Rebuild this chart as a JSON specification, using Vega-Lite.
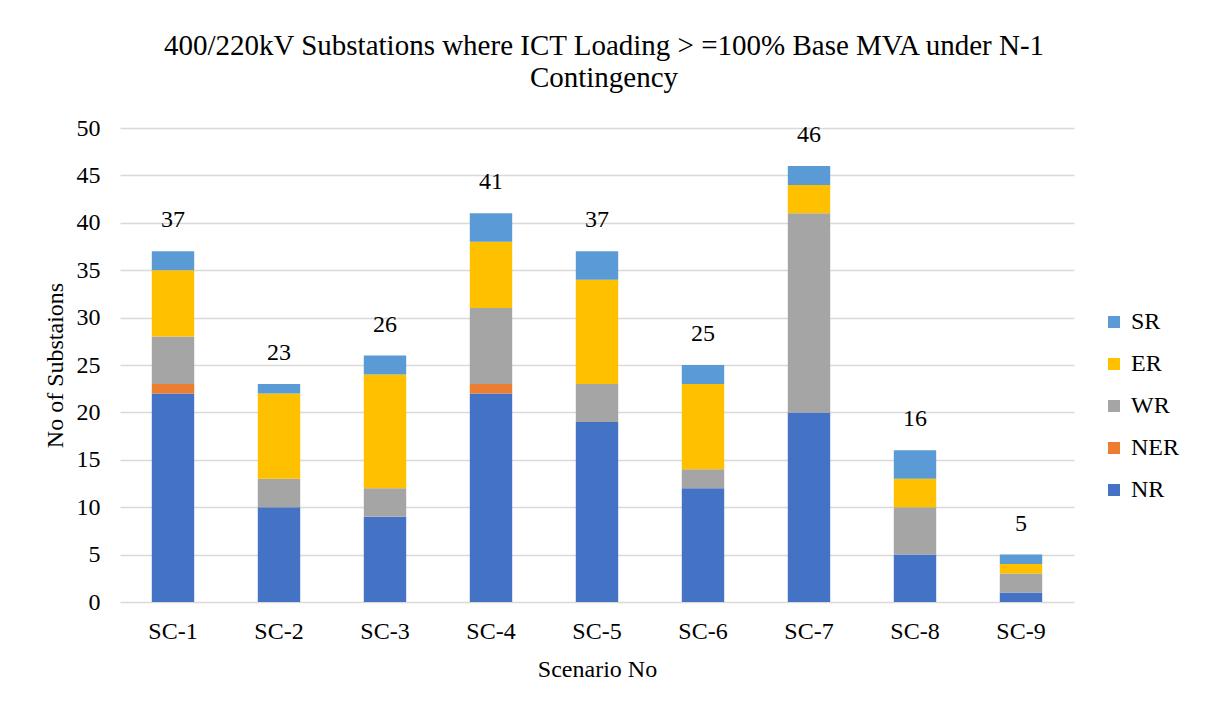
{
  "$schema": "https://vega.github.io/schema/vega-lite/v6.json",
  "autosize": {"type": "none"},
  "width": 954,
  "height": 474,
  "padding": {"left": 120, "top": 128, "right": 131, "bottom": 104},
  "background": "white",
  "config": {
    "font": "Liberation Serif",
    "view": {"stroke": null},
    "axis": {"labelFont": "Liberation Serif", "titleFont": "Liberation Serif", "labelColor": "#000000", "titleColor": "#000000", "titleFontWeight": "normal", "labelFontSize": 24, "titleFontSize": 24},
    "legend": {"labelFont": "Liberation Serif", "labelFontSize": 24, "labelColor": "#000000"}
  },
  "title": {
    "text": ["400/220kV Substations where ICT Loading > =100% Base MVA under N-1", "Contingency"],
    "font": "Liberation Serif",
    "fontSize": 29,
    "fontWeight": "normal",
    "color": "#000000",
    "anchor": "middle",
    "lineHeight": 32,
    "offset": 23,
    "dx": 7
  },
  "data": {
    "values": [
      {"scenario": "SC-1", "region": "NR", "ord": 1, "value": 22},
      {"scenario": "SC-1", "region": "NER", "ord": 2, "value": 1},
      {"scenario": "SC-1", "region": "WR", "ord": 3, "value": 5},
      {"scenario": "SC-1", "region": "ER", "ord": 4, "value": 7},
      {"scenario": "SC-1", "region": "SR", "ord": 5, "value": 2},
      {"scenario": "SC-2", "region": "NR", "ord": 1, "value": 10},
      {"scenario": "SC-2", "region": "NER", "ord": 2, "value": 0},
      {"scenario": "SC-2", "region": "WR", "ord": 3, "value": 3},
      {"scenario": "SC-2", "region": "ER", "ord": 4, "value": 9},
      {"scenario": "SC-2", "region": "SR", "ord": 5, "value": 1},
      {"scenario": "SC-3", "region": "NR", "ord": 1, "value": 9},
      {"scenario": "SC-3", "region": "NER", "ord": 2, "value": 0},
      {"scenario": "SC-3", "region": "WR", "ord": 3, "value": 3},
      {"scenario": "SC-3", "region": "ER", "ord": 4, "value": 12},
      {"scenario": "SC-3", "region": "SR", "ord": 5, "value": 2},
      {"scenario": "SC-4", "region": "NR", "ord": 1, "value": 22},
      {"scenario": "SC-4", "region": "NER", "ord": 2, "value": 1},
      {"scenario": "SC-4", "region": "WR", "ord": 3, "value": 8},
      {"scenario": "SC-4", "region": "ER", "ord": 4, "value": 7},
      {"scenario": "SC-4", "region": "SR", "ord": 5, "value": 3},
      {"scenario": "SC-5", "region": "NR", "ord": 1, "value": 19},
      {"scenario": "SC-5", "region": "NER", "ord": 2, "value": 0},
      {"scenario": "SC-5", "region": "WR", "ord": 3, "value": 4},
      {"scenario": "SC-5", "region": "ER", "ord": 4, "value": 11},
      {"scenario": "SC-5", "region": "SR", "ord": 5, "value": 3},
      {"scenario": "SC-6", "region": "NR", "ord": 1, "value": 12},
      {"scenario": "SC-6", "region": "NER", "ord": 2, "value": 0},
      {"scenario": "SC-6", "region": "WR", "ord": 3, "value": 2},
      {"scenario": "SC-6", "region": "ER", "ord": 4, "value": 9},
      {"scenario": "SC-6", "region": "SR", "ord": 5, "value": 2},
      {"scenario": "SC-7", "region": "NR", "ord": 1, "value": 20},
      {"scenario": "SC-7", "region": "NER", "ord": 2, "value": 0},
      {"scenario": "SC-7", "region": "WR", "ord": 3, "value": 21},
      {"scenario": "SC-7", "region": "ER", "ord": 4, "value": 3},
      {"scenario": "SC-7", "region": "SR", "ord": 5, "value": 2},
      {"scenario": "SC-8", "region": "NR", "ord": 1, "value": 5},
      {"scenario": "SC-8", "region": "NER", "ord": 2, "value": 0},
      {"scenario": "SC-8", "region": "WR", "ord": 3, "value": 5},
      {"scenario": "SC-8", "region": "ER", "ord": 4, "value": 3},
      {"scenario": "SC-8", "region": "SR", "ord": 5, "value": 3},
      {"scenario": "SC-9", "region": "NR", "ord": 1, "value": 1},
      {"scenario": "SC-9", "region": "NER", "ord": 2, "value": 0},
      {"scenario": "SC-9", "region": "WR", "ord": 3, "value": 2},
      {"scenario": "SC-9", "region": "ER", "ord": 4, "value": 1},
      {"scenario": "SC-9", "region": "SR", "ord": 5, "value": 1}
    ]
  },
  "encoding": {
    "x": {
      "field": "scenario",
      "type": "nominal",
      "scale": {"paddingInner": 0.6, "paddingOuter": 0.3},
      "axis": {"labelAngle": 0, "ticks": false, "domain": false, "labelPadding": 17, "title": "Scenario No", "titlePadding": 14, "grid": false}
    }
  },
  "layer": [
    {
      "mark": {"type": "bar"},
      "encoding": {
        "y": {
          "field": "value",
          "type": "quantitative",
          "stack": "zero",
          "scale": {"domain": [0, 50]},
          "axis": {"values": [0, 5, 10, 15, 20, 25, 30, 35, 40, 45, 50], "ticks": false, "domain": false, "gridColor": "#D9D9D9", "gridWidth": 1.5, "labelPadding": 20, "title": "No of Substaions", "titlePadding": 9}
        },
        "order": {"field": "ord", "type": "quantitative", "sort": "ascending"},
        "color": {
          "field": "region",
          "type": "nominal",
          "scale": {"domain": ["SR", "ER", "WR", "NER", "NR"], "range": ["#5B9BD5", "#FFC000", "#A5A5A5", "#ED7D31", "#4472C4"]},
          "legend": {"title": null, "orient": "none", "legendX": 982, "legendY": 182, "symbolType": "square", "symbolSize": 144, "symbolStrokeWidth": 0, "rowPadding": 18, "labelOffset": 5}
        }
      }
    },
    {
      "transform": [{"aggregate": [{"op": "sum", "field": "value", "as": "total"}], "groupby": ["scenario"]}],
      "mark": {"type": "text", "dy": -31, "fontSize": 24, "font": "Liberation Serif", "color": "#000000", "baseline": "middle"},
      "encoding": {
        "y": {"field": "total", "type": "quantitative"},
        "text": {"field": "total", "type": "quantitative"}
      }
    }
  ]
}
